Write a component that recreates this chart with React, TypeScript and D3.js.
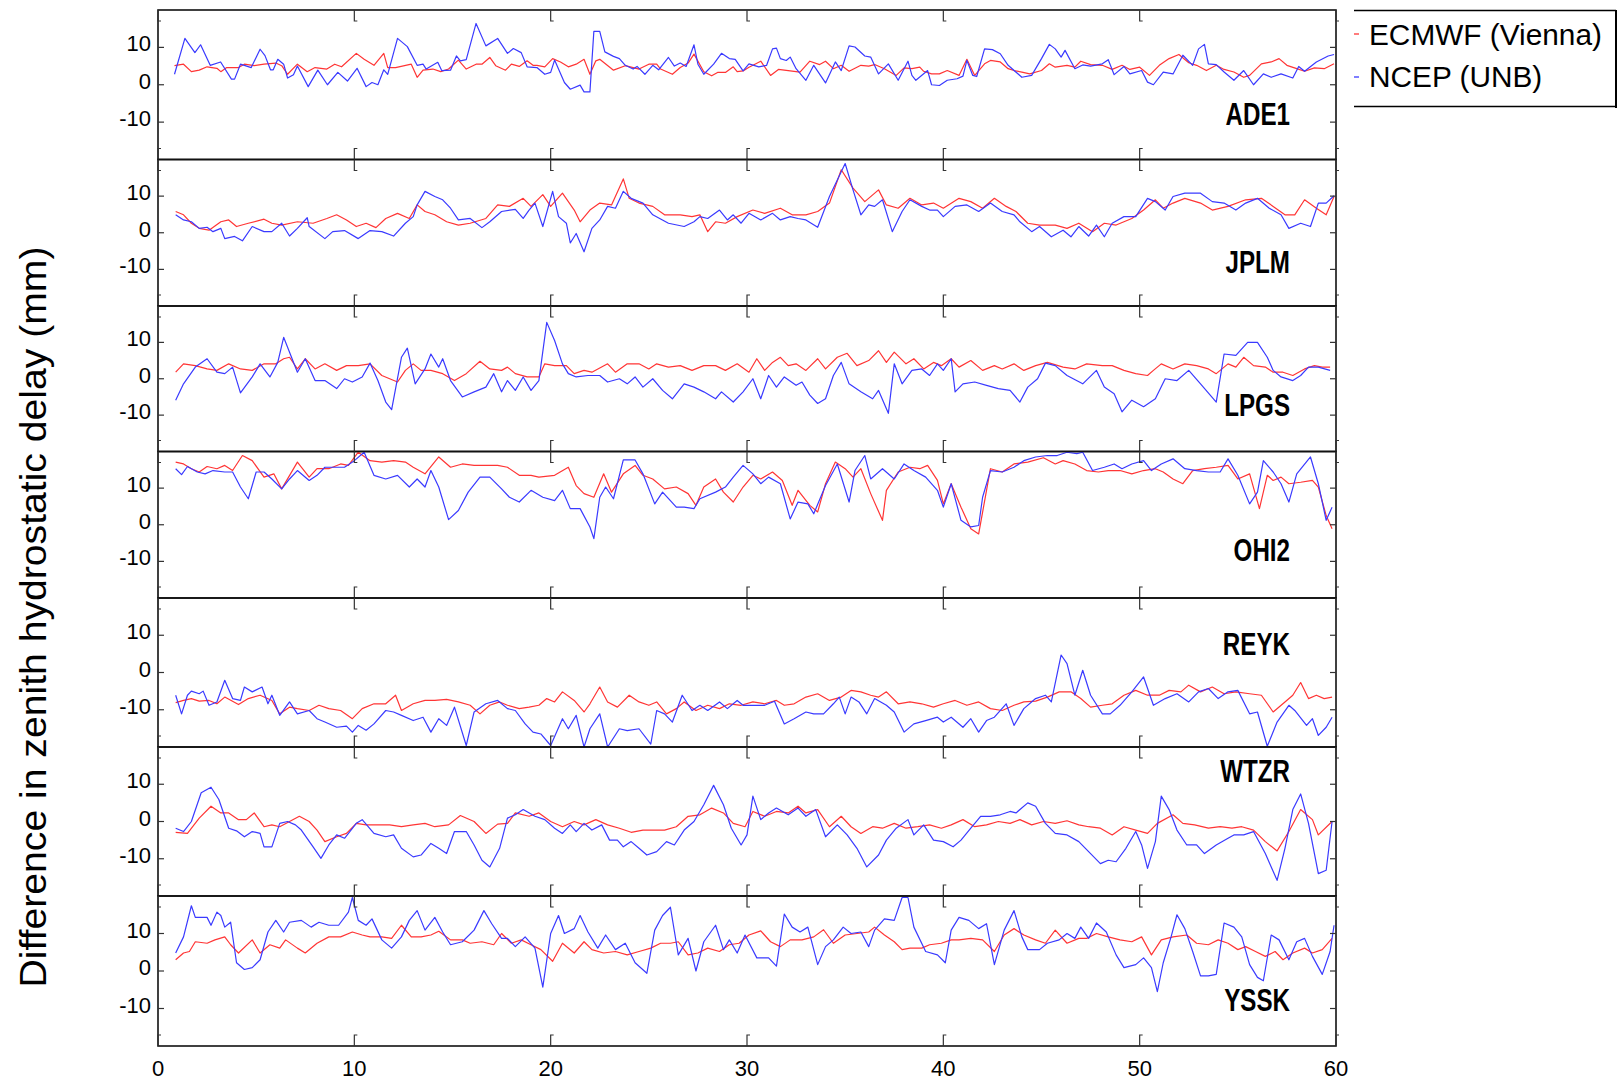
import React from "react";
import * as d3 from "d3";

type P = [number, number];

const STATIONS = ["ADE1", "JPLM", "LPGS", "OHI2", "REYK", "WTZR", "YSSK"];
const SERIES_NAMES = ["ECMWF (Vienna)", "NCEP (UNB)"];
const X_TICKS = [0, 10, 20, 30, 40, 50, 60];
const Y_TICKS = [-10, 0, 10];
const X_DOMAIN: [number, number] = [0, 60];
const Y_DOMAIN: [number, number] = [-20, 20];
const Y_LABEL = "Difference in zenith hydrostatic delay (mm)";

const ADE1_ECMWF: P[] = [[0.84,5.1],[1.3,5.5],[1.7,3.5],[2.1,3.9],[2.5,4.8],[3,4.4],[3.2,3.5],[3.5,4.6],[4.1,4.6],[4.4,5.5],[4.9,5.1],[5.4,5.5],[6,5.8],[6.3,5.1],[6.6,2.8],[7.1,5.5],[7.6,3.5],[8,4.6],[8.6,4.2],[9,5.5],[9.35,4.8],[10.1,8.4],[10.5,6.8],[11,5.2],[11.5,8.4],[11.7,4.6],[12.1,4.6],[12.9,5.5],[13.2,2],[13.5,3.9],[14,4.2],[14.4,3.5],[14.8,4.2],[15.3,6.6],[15.7,4.2],[16.2,5.5],[16.5,5.5],[16.9,7.3],[17.2,5.1],[17.7,3.9],[18,5.5],[18.4,4.9],[18.8,6.4],[19.1,5.2],[19.3,5.2],[19.7,4.8],[20.1,7],[20.5,6.1],[20.9,4.8],[21.3,5.5],[21.7,6.8],[22,2.8],[22.3,6.4],[22.5,6.8],[23.2,3.9],[23.8,5.1],[24.5,4.2],[25,5.5],[25.4,5.5],[25.6,4.2],[26.2,2.8],[26.6,4.6],[27,5.8],[27.3,8.2],[27.8,3.5],[28.2,2.4],[28.5,3.3],[28.9,3.3],[29.3,4.8],[29.5,3.5],[29.8,3.7],[30.1,4.7],[30.7,6.3],[31.2,2.5],[31.6,4.1],[32.1,3.8],[32.7,3.4],[33.2,6.3],[33.7,5.4],[34,6.3],[34.4,4.3],[34.8,5.2],[35.2,3.6],[35.8,5.2],[36.2,5],[36.5,5.4],[37,4.3],[37.6,2.5],[38,4.5],[38.4,4.3],[38.8,4.7],[39,3.6],[39.4,2.9],[39.8,2.9],[40.2,3.8],[40.8,2.5],[41.2,6.8],[41.6,2.5],[42.1,5.6],[42.4,6.5],[42.9,6.1],[43.3,4.3],[43.6,3.8],[44,3.4],[44.4,2.9],[45,3.8],[45.4,5.6],[45.7,4.7],[46.3,5.2],[46.7,4.7],[47,6.3],[47.5,5.4],[48.1,5.2],[48.6,4.1],[49.1,5.2],[49.5,4.1],[50,4.7],[50.5,2.5],[51,5.2],[51.5,7],[52,8.1],[52.5,5.9],[52.9,5.2],[53.4,3.8],[53.9,5.2],[54.3,4.1],[54.8,3.4],[55.3,2],[55.6,2.5],[56.2,5.6],[56.7,6.1],[57.1,7],[57.5,5.2],[58,4.3],[58.4,3.6],[58.9,4.5],[59.4,4.3],[59.9,5.6]];
const ADE1_NCEP: P[] = [[0.84,2.8],[1.37,12.4],[1.88,8.6],[2.17,10.7],[2.66,5.2],[3.19,6.1],[3.74,1.5],[3.9,1.5],[4.2,5.5],[4.75,4.6],[5.2,9.5],[5.45,7.8],[5.73,4],[5.87,4],[6.1,6.8],[6.4,5.5],[6.6,1.8],[6.9,2.7],[7.1,5],[7.65,-0.5],[8.14,3.9],[8.63,0],[9.16,3.3],[9.65,1],[10.14,4.4],[10.6,-0.5],[10.9,0.6],[11.2,0],[11.5,4],[11.7,2.8],[12.2,12.4],[12.7,10.2],[13.2,5.2],[13.5,5.5],[13.66,4.2],[14.25,6],[14.45,3.8],[14.9,3.9],[15.2,7.7],[15.4,6.4],[15.7,6.7],[16.2,16.4],[16.7,10.4],[17.3,12.4],[17.8,8.4],[18.1,9.7],[18.5,8.6],[18.8,4.8],[19.3,4.6],[19.7,2.8],[20,3.3],[20.2,6.6],[20.7,0.6],[21,-1.2],[21.5,-0.1],[21.7,-1.9],[22,-1.9],[22.2,14.3],[22.5,14.3],[22.76,8.8],[23.2,7.6],[23.5,7],[23.8,5.2],[24.2,4.2],[24.4,4.9],[24.8,2.8],[25.2,5.2],[25.5,4],[26,7.3],[26.3,5],[26.6,5.8],[26.9,4.9],[27.3,10.7],[27.5,5.5],[27.8,2.8],[28.3,5.5],[28.7,8.4],[29.1,7],[29.4,6.8],[29.8,3.7],[30.1,5.6],[30.6,4.8],[31,5.2],[31.3,9.6],[31.5,9.8],[31.7,7],[32,6.5],[32.2,7.4],[32.5,4.3],[33,1.2],[33.4,5.2],[34,0.5],[34.5,6.1],[34.8,3.8],[35.2,10.4],[35.5,10.1],[36,7.7],[36.3,7.4],[36.7,2.9],[37.2,5.6],[37.7,1.2],[38.2,6.3],[38.4,2.5],[38.6,1.2],[39.2,3.8],[39.4,0],[39.8,-0.2],[40.2,1.2],[40.7,1.6],[41,2.3],[41.2,6.5],[41.5,2.5],[41.7,2.2],[42.1,9.6],[42.5,9.4],[42.9,8.3],[43.3,5.2],[44,2],[44.5,2.5],[45,7],[45.4,10.8],[45.7,9.6],[46,7.4],[46.2,9.2],[46.7,4.3],[47.1,5.3],[47.5,5],[48.1,5.6],[48.4,6.7],[48.7,2.7],[49.2,4.9],[49.5,2.9],[50.1,3.8],[50.4,0.7],[50.7,0],[51.2,3.4],[51.7,2.9],[52.2,7.9],[52.7,5.2],[53,9.6],[53.3,10.8],[53.5,5.6],[53.9,5.4],[54.3,3.4],[54.8,1.2],[55.3,3.8],[55.8,0],[56.3,2.9],[56.7,2],[57.2,2.9],[57.8,1.8],[58.1,4.9],[58.4,3.6],[59,6.1],[59.6,7.7],[59.9,8.1]];

const JPLM_ECMWF: P[] = [[0.9,5.8],[1.3,4.9],[1.7,2.6],[2.1,1.2],[2.6,0.7],[3.2,3],[3.6,3.5],[4,1.7],[4.6,2.6],[5.4,3.7],[5.8,2.6],[6.3,2.1],[7.1,3],[7.9,2.6],[8.6,3.9],[9.1,4.9],[9.6,3.5],[10.1,1.7],[10.6,2.6],[11.1,1.4],[11.6,3.9],[12.2,5.3],[12.8,3.9],[13.2,7.6],[13.6,5.8],[14.1,4.9],[14.7,3],[15.3,2.1],[15.9,2.6],[16.7,3.9],[17.3,7.6],[17.9,7.2],[18.6,9.4],[19,7.2],[19.6,10.4],[20,7.2],[20.6,10.8],[21.2,6.2],[21.5,3],[22,6.2],[22.5,8.1],[23.1,7.6],[23.7,14.7],[24,9.4],[24.5,8.1],[25.2,7.2],[25.8,4.9],[26.6,4.9],[27.2,4.4],[27.6,4.9],[28,0.3],[28.4,3],[28.9,2.6],[29.5,4.4],[30.3,6.2],[30.9,5.3],[31.7,6.7],[32.3,4.9],[33,4.9],[33.6,5.8],[34.2,8.1],[34.8,17.2],[35.4,12.2],[36,8.5],[36.7,11.7],[37.1,7.6],[37.7,6.7],[38.3,9.4],[38.9,7.6],[39.5,8.1],[40,6.7],[40.8,9.4],[41.4,8.5],[42,6.7],[42.6,9.4],[43.2,7.2],[43.7,5.8],[44.3,2.6],[44.9,2.1],[45.7,2.1],[46.3,1.2],[46.9,2.6],[47.6,0.3],[48.2,2.6],[48.8,2.1],[49.6,3.9],[50.2,6.2],[50.8,9],[51.2,6.7],[51.7,8.1],[52.3,9.4],[53.1,8.1],[53.7,6.2],[54.5,7.2],[55.4,9],[56.2,9.4],[56.8,7.2],[57.4,4.9],[57.9,4.9],[58.4,9],[59,6.7],[59.5,4.9],[59.9,9.9]];
const JPLM_NCEP: P[] = [[0.9,4.9],[1.3,3.5],[1.7,3],[2.1,1.2],[2.5,1.5],[2.8,0.3],[3.2,1.2],[3.4,-1.6],[3.9,-1],[4.3,-2.2],[4.8,1.7],[5.4,0.3],[5.8,0.3],[6.3,2.6],[6.7,-0.9],[7.1,1.2],[7.6,4.1],[7.7,1.7],[8.5,-1.6],[8.9,0.3],[9.5,0.6],[10.2,-1.6],[10.8,0.6],[11.4,0.3],[12,-0.9],[12.6,2.6],[13,4.4],[13.2,7.6],[13.6,11.3],[14.1,9.9],[14.5,9],[14.9,6.7],[15.3,3.5],[15.9,3.9],[16.5,1.4],[16.9,3],[17.5,5.8],[18.2,6.4],[18.6,3.9],[18.9,6.2],[19.2,8.1],[19.6,1.7],[20.1,11.3],[20.4,4.4],[20.8,2.6],[21,-2.8],[21.3,-0.2],[21.7,-5.2],[22.1,1.2],[22.5,3.5],[22.9,7.2],[23.3,6.7],[23.7,11.3],[24.1,9.4],[24.7,8.1],[25.2,4.9],[26,2.6],[26.8,1.7],[27.3,3],[27.6,4.4],[28,3.9],[28.6,6.2],[29,3.5],[29.3,4.9],[29.7,2.6],[30.1,5.3],[30.7,3.5],[31.3,5.3],[31.7,3.5],[32.2,4.4],[32.6,3.9],[33,3.5],[33.6,1.5],[34.2,9.9],[35,18.9],[35.4,11.7],[35.8,4.9],[36.2,7.6],[36.5,7.2],[36.9,9],[37.4,0.3],[37.9,5.8],[38.3,9],[38.9,7.2],[39.3,6.2],[39.7,6.2],[40,4.4],[40.6,7.2],[41.2,7.6],[41.8,5.8],[42.4,8.1],[43,5.8],[43.6,4.9],[43.9,3],[44.5,0.3],[44.9,1.7],[45.5,-1.1],[46.1,0.7],[46.5,-1.1],[46.9,1.7],[47.4,-0.9],[47.8,2.1],[48.2,-1.1],[48.6,2.6],[49.2,4.4],[49.8,4.4],[50.4,9.4],[50.8,8.5],[51.3,6.2],[51.7,9.9],[52.3,10.8],[53.1,10.8],[53.7,8.5],[54.3,8.1],[54.9,6.2],[55.4,8.1],[56,9.4],[56.6,6.7],[57.2,4.9],[57.6,1.2],[58.2,2.6],[58.7,1.7],[59.1,8.1],[59.5,8.1],[59.9,10.1]];

const LPGS_ECMWF: P[] = [[0.9,1.8],[1.3,4.1],[1.9,3.6],[2.5,2.7],[3,2.3],[3.6,4.1],[4.2,2.7],[4.8,2.3],[5.4,4.1],[6,4.1],[6.4,5.5],[6.7,5.9],[7.1,2.7],[7.5,5.5],[8,2.7],[8.5,4.1],[9.1,2.3],[9.6,3.6],[10.2,3.6],[10.8,4.1],[11.4,0.9],[12.2,-0.9],[12.6,2.3],[13,4.1],[13.4,2.3],[13.9,2.3],[14.5,1.4],[15.1,-0.5],[15.7,1.4],[16.4,4.8],[16.9,2.7],[17.5,2.3],[17.8,3.2],[18.2,1.4],[18.8,0.5],[19.4,0.5],[19.7,4.1],[20.2,3.6],[20.8,3.6],[21.2,1.4],[21.7,2.3],[22.1,1.8],[22.9,4.1],[23.3,1.8],[23.9,4.1],[24.5,4.1],[25,2.7],[25.4,4.1],[26,3.2],[26.6,3.6],[27.2,2.3],[27.8,3.6],[28.4,3.6],[28.9,2.3],[29.5,4.1],[30.1,1.8],[30.5,5.5],[30.9,2.3],[31.3,4.5],[31.7,5.9],[32.1,3.6],[32.5,4.1],[33,2.3],[33.6,5.5],[34,2.7],[34.6,5.9],[35.1,7],[35.6,3.6],[36.2,5],[36.7,7.7],[37.1,4.5],[37.5,7.3],[38.1,4.1],[38.5,5.5],[39,2.7],[39.5,4.5],[39.9,3.6],[40.4,5.5],[40.8,3.2],[41.4,5],[42,2.3],[42.6,3.6],[43,2.7],[43.6,4.1],[44.1,2.3],[44.7,3.6],[45.3,4.5],[46.1,3.2],[46.7,2.7],[47.3,4.1],[48.1,3.6],[48.6,3.6],[49.2,2.3],[49.8,1.4],[50.4,0.9],[50.7,2.3],[51.1,4.1],[51.7,2.7],[52.3,4.1],[52.9,3.6],[53.5,2.7],[53.9,1.4],[54.5,4.1],[54.9,3.2],[55.3,5.9],[55.8,3.6],[56.4,3.2],[56.8,1.8],[57.3,1.8],[57.8,0.9],[58.4,2.7],[58.9,3.6],[59.3,3.2],[59.7,3.2]];
const LPGS_NCEP: P[] = [[0.9,-5.9],[1.3,-1.4],[1.9,3.2],[2.5,5.5],[3,1.8],[3.4,1.4],[3.8,3.2],[4.2,-3.9],[4.8,0.5],[5.2,4.1],[5.7,0.5],[6.1,4.5],[6.4,11.4],[6.7,7.3],[7.1,1.8],[7.5,5.5],[8,-0.5],[8.5,-0.5],[9.1,-2.7],[9.5,0],[9.9,-0.9],[10.4,0.5],[10.8,4.3],[11.2,-0.5],[11.6,-6.4],[11.9,-8.5],[12.4,5.9],[12.7,8.4],[13.1,-1.4],[13.6,2.7],[13.9,6.8],[14.3,3.2],[14.5,5.5],[14.9,-0.5],[15.5,-5],[16.1,-3.6],[16.7,-2.3],[17.1,1.4],[17.5,-3.6],[17.8,-0.5],[18.2,-3.2],[18.6,0.5],[19,-3.2],[19.4,-0.5],[19.8,15.5],[20.2,10.5],[20.6,4.1],[20.9,1.4],[21.3,0.5],[21.9,0.9],[22.5,0.9],[22.9,-0.9],[23.5,0],[23.9,-1.4],[24.3,0.5],[24.7,-2.3],[25.2,0],[25.7,-3.2],[26.2,-5.5],[26.8,-1.4],[27.3,-2.3],[27.8,-3.6],[28.4,-5.5],[28.7,-3.6],[29.3,-6.4],[29.8,-3.6],[30.3,0],[30.7,-5.5],[31.1,0.9],[31.5,-2.3],[31.9,0.5],[32.5,-1.8],[32.8,-0.9],[33.2,-4.5],[33.6,-6.8],[34,-5.5],[34.4,0.9],[34.8,4.5],[35.2,-1.4],[35.8,-3.6],[36.4,-5.5],[36.7,-3.2],[37.2,-9.5],[37.5,4.1],[37.9,-1.4],[38.4,2.3],[38.9,2.7],[39.3,0.9],[39.7,4.1],[40,2.3],[40.4,5.5],[40.6,-3.6],[41,-1.4],[41.6,-0.9],[42.2,-1.8],[42.8,-2.7],[43.4,-3.2],[43.9,-6.4],[44.3,-2.3],[44.8,0],[45.2,4.3],[45.7,3.6],[46.3,0.9],[47.1,-1.4],[47.8,2.3],[48.2,-2.3],[48.7,-4.1],[49.1,-9.1],[49.6,-5.9],[50.2,-7.7],[50.8,-5.5],[51.3,0],[51.9,-0.5],[52.5,2.3],[53.1,-1.4],[53.9,-6.4],[54.3,6.8],[54.9,6.4],[55.5,10],[56,10],[56.5,5.9],[56.8,2.3],[57.2,0.5],[57.8,-0.5],[58.2,0.9],[58.6,3.2],[59.1,3.2],[59.7,2.3]];

const OHI2_ECMWF: P[] = [[0.9,17.1],[1.3,16.6],[1.7,15.3],[2.1,14.4],[2.5,15.9],[3,15.3],[3.4,16.2],[3.8,14.8],[4.3,18.9],[4.8,17.5],[5.4,13],[5.9,13.9],[6.3,9.8],[7.1,17.1],[7.7,13],[8.1,15.3],[8.7,15.3],[9.3,16.6],[9.7,16.2],[10.2,19.8],[10.8,17.5],[11.4,17.1],[12,17.5],[12.6,17.1],[13,15.7],[13.6,13.9],[14.3,18.5],[14.9,15.7],[15.5,16.6],[16.1,16.2],[16.7,16.2],[17.3,16.2],[17.8,15.7],[18.4,13.5],[19,13.5],[19.4,13],[20.2,13.5],[20.9,15.7],[21.3,10.7],[21.7,8.5],[22.2,7.5],[22.7,13.9],[23.1,8.9],[23.7,13.9],[24.3,16.2],[24.7,13.5],[25.2,12.5],[25.8,9.8],[26.4,10.3],[27,8.5],[27.4,5.3],[27.8,10.3],[28.4,12.5],[28.8,8.9],[29.3,6.2],[29.8,10.3],[30.3,13.5],[30.7,12.5],[31.3,14.4],[31.8,12.1],[32.3,5.3],[32.6,9.4],[33.2,5.3],[33.6,3.5],[34,11.2],[34.5,17.1],[35,15.3],[35.4,13],[35.8,15.3],[36.3,8.5],[36.9,1.2],[37.1,9.4],[37.7,14.4],[38.3,15.7],[38.8,15.3],[39.2,16.2],[39.7,12.1],[40,5.7],[40.4,11.2],[40.9,4.8],[41.4,-1.1],[41.8,-2.5],[42.4,15.3],[43,14.4],[43.6,16.6],[44.3,17.1],[45.1,18.3],[45.7,16.6],[46.1,17.5],[46.7,16.6],[47.3,14.8],[47.9,14.4],[48.4,14.8],[49,14.8],[49.6,13.9],[50.2,14.8],[50.8,15.3],[51.2,14.4],[51.7,12.5],[52.2,11.2],[52.7,14.8],[53.3,15.3],[53.9,15.7],[54.5,16.2],[55,12.5],[55.6,13.9],[56.1,4.4],[56.5,13.5],[56.8,12.1],[57.2,13],[57.6,11.2],[58.2,11.6],[58.8,12.1],[59.1,10.3],[59.5,2.5],[59.8,-1.1]];
const OHI2_NCEP: P[] = [[0.9,15.3],[1.2,13.7],[1.5,15.9],[2,14.4],[2.4,13.9],[2.8,14.8],[3.4,14.4],[3.8,14.4],[4.2,10.3],[4.6,7.1],[5,14.4],[5.4,14.4],[5.8,12.5],[6.3,9.8],[6.7,12.5],[7.1,14.8],[7.7,12.1],[8.1,13.5],[8.5,15.7],[9.1,15.7],[9.5,15.7],[10,17.5],[10.5,19.8],[11,13.5],[11.6,12.5],[12.2,13.5],[12.8,10.3],[13.2,12.5],[13.6,10.3],[13.9,14.8],[14.3,10.3],[14.8,1.4],[15.3,3.9],[15.8,8.9],[16.4,13],[16.9,13],[17.5,9.8],[17.9,7.5],[18.4,6.2],[19,9.4],[19.6,7.5],[20.2,6.6],[20.6,9.4],[21,4.4],[21.5,4.4],[22,-0.6],[22.2,-3.8],[22.5,7.5],[22.8,10.3],[23.2,7.1],[23.7,17.7],[24.3,17.7],[24.7,13.9],[25.3,5.7],[25.7,8.9],[26.4,4.8],[26.8,4.8],[27.3,4.4],[27.6,7.1],[28.4,8.9],[28.9,10.3],[29.3,13],[29.8,16.2],[30.3,13.9],[30.7,11.2],[31.1,13],[31.7,11.2],[32.2,1.6],[32.6,6.2],[33.1,5.7],[33.4,3],[34,10.7],[34.6,16.6],[35.2,6.2],[35.5,14.8],[36,18.9],[36.3,12.5],[36.9,15.3],[37.5,12.5],[38,16.6],[38.5,14.8],[39.1,13],[39.7,9.4],[40,4.8],[40.4,11.2],[40.9,1.2],[41.4,-0.6],[41.8,-0.2],[42,7.5],[42.4,14.8],[43,14.4],[43.6,15.7],[44.1,17.5],[44.7,18.5],[45.3,18.9],[45.8,18.9],[46.3,19.8],[46.8,19.4],[47.1,19.8],[47.6,14.8],[48.2,15.7],[48.7,16.6],[49.1,15.3],[49.6,16.6],[50.2,17.5],[50.6,14.8],[51.1,16.6],[51.7,18],[52.3,15.3],[52.9,14.8],[53.5,14.4],[54.1,14.4],[54.5,18],[55,13.5],[55.6,5.7],[56,8.9],[56.3,17.5],[56.8,14.4],[57.2,11.2],[57.6,6.2],[58,13.9],[58.7,18.5],[59.1,11.2],[59.5,1.2],[59.8,4.8]];

const REYK_ECMWF: P[] = [[0.9,-8.1],[1.3,-7.5],[1.7,-7],[2.1,-7.7],[2.6,-7.5],[3,-8.4],[3.4,-6.6],[4.1,-8.6],[4.6,-7],[5.2,-6.1],[5.8,-7.5],[6.2,-11.1],[6.7,-9.3],[7.1,-9.7],[7.7,-10.2],[8.2,-8.8],[8.7,-9.7],[9.3,-10.2],[9.9,-12.4],[10.4,-9.7],[11,-8.4],[11.6,-8.4],[12.1,-6.1],[12.4,-10.2],[13,-8.4],[13.6,-7.5],[14.1,-7.5],[14.7,-7.2],[15.3,-7.9],[15.9,-8.8],[16.4,-11.1],[16.9,-8.8],[17.4,-7.9],[17.8,-8.8],[18.4,-9.7],[18.9,-9.3],[19.4,-8.8],[19.8,-7],[20.2,-7.9],[20.6,-5.2],[21.2,-7.5],[21.7,-10.6],[22,-8.4],[22.5,-3.9],[22.9,-7.9],[23.4,-9.3],[24,-6.1],[24.5,-7.9],[25,-8.8],[25.4,-7.9],[25.9,-11.1],[26.4,-9.7],[26.8,-7.9],[27.4,-10.2],[28,-8.8],[28.6,-9.7],[29.1,-8.4],[29.7,-8.8],[30.3,-7.9],[30.9,-8.4],[31.5,-7.5],[31.9,-8.8],[32.4,-8.4],[33,-6.6],[33.6,-5.7],[34.2,-7.5],[34.8,-6.6],[35.3,-4.8],[35.8,-5.2],[36.3,-6.1],[36.7,-6.6],[37.1,-5.2],[37.7,-8.4],[38.3,-7.9],[38.9,-8.4],[39.5,-9.3],[40,-8.4],[40.6,-7.5],[41.2,-8.8],[41.8,-7.9],[42.4,-9.7],[43,-10.2],[43.6,-8.8],[44.1,-7.9],[44.7,-7.7],[45.3,-6.6],[45.9,-5.2],[46.5,-5.2],[47,-7],[47.5,-9.3],[48.1,-8.8],[48.6,-8.4],[49.2,-6.1],[49.8,-4.8],[50.4,-6.1],[51,-6.1],[51.5,-4.8],[52.1,-5.2],[52.5,-3.4],[53.1,-5.2],[53.7,-3.9],[54.3,-5.7],[54.9,-5.2],[55.6,-5.7],[56.2,-6.1],[56.8,-10.6],[57.4,-7.9],[57.8,-6.1],[58.2,-2.7],[58.6,-7],[59,-6.1],[59.4,-7],[59.8,-6.6]];
const REYK_NCEP: P[] = [[0.9,-6.1],[1.2,-11.1],[1.5,-6.1],[1.7,-5],[2.1,-5.7],[2.3,-5],[2.6,-8.8],[3,-7.9],[3.4,-2.1],[3.8,-7],[4.2,-7.5],[4.4,-3.9],[4.8,-5.2],[5.3,-3.9],[5.6,-8.4],[5.8,-6.1],[6.2,-11.5],[6.7,-7.9],[7.1,-11.1],[7.7,-10.2],[8.1,-12.4],[8.5,-13.3],[9.1,-14.7],[9.6,-14.4],[9.9,-16],[10.2,-14.2],[10.6,-15.5],[11,-13.8],[11.6,-10.2],[12,-10.6],[12.4,-11.5],[13,-12.9],[13.5,-12],[13.9,-16],[14.3,-12.4],[14.7,-14.2],[15.1,-9.3],[15.7,-19.6],[16.1,-10.6],[16.7,-8.4],[17.3,-7.5],[17.8,-9.7],[18.2,-10.2],[18.7,-13.8],[19.1,-16],[19.5,-16.5],[20,-19.6],[20.6,-12.4],[20.9,-15.1],[21.3,-11.5],[21.7,-20],[22,-15.1],[22.5,-11.1],[22.9,-20],[23.5,-15.1],[23.9,-15.6],[24.5,-15.1],[25.1,-19.2],[25.4,-10.2],[25.8,-11.1],[26.2,-13.3],[26.7,-6.1],[27.2,-10.2],[27.6,-8.8],[28,-10.2],[28.6,-7.9],[29,-9.7],[29.5,-7.5],[29.8,-8.8],[30.3,-8.8],[30.9,-8.8],[31.4,-7.7],[31.9,-13.8],[32.4,-12.4],[33,-10.6],[33.4,-11.1],[33.9,-11.1],[34.4,-8.4],[34.7,-6.6],[35,-11.1],[35.3,-6.6],[35.7,-7.9],[36.1,-11.1],[36.5,-7],[37.1,-8.8],[37.5,-10.6],[38,-16],[38.5,-13.8],[39.1,-12.9],[39.7,-12],[40,-13.3],[40.4,-12],[41,-14.7],[41.4,-12.4],[41.8,-16],[42.2,-12.9],[42.6,-12],[43.2,-8.4],[43.6,-14.2],[44.1,-9.7],[44.7,-7],[45.2,-6.1],[45.5,-7.9],[46,4.7],[46.3,2.4],[46.7,-6.1],[47.1,0.6],[47.5,-6.1],[48.1,-11.1],[48.5,-11.1],[49,-8.8],[49.6,-5.2],[50.2,-1.2],[50.7,-8.8],[51.3,-7],[51.9,-5.7],[52.5,-7.9],[53,-5.2],[53.5,-4.3],[54,-7],[54.5,-5.2],[55,-4.8],[55.6,-11.1],[56,-10.6],[56.5,-19.8],[57,-13.3],[57.6,-8.8],[57.9,-10.2],[58.5,-14.2],[58.8,-12.4],[59.1,-16.9],[59.5,-14.7],[59.8,-12]];

const WTZR_ECMWF: P[] = [[0.9,-2.9],[1.5,-3.2],[2.1,0.9],[2.7,4.1],[3.2,2.3],[3.6,2.3],[4.1,0.5],[4.5,0.5],[4.9,2.3],[5.4,-1.4],[5.8,-0.9],[6.2,-1.4],[6.7,0],[7.2,1.4],[7.7,0],[8.1,-2.3],[8.5,-5.4],[9.1,-4.1],[9.6,-3.2],[10.1,-0.5],[10.6,-0.9],[11.2,-0.9],[11.8,-0.9],[12.4,-1.4],[13,-0.9],[13.6,-0.5],[14.1,-1.4],[14.8,-0.9],[15.4,1.6],[16.1,0],[16.7,-3.2],[17.3,-0.7],[17.8,-0.5],[18.2,2.3],[18.9,1.4],[19.4,2.3],[20,0],[20.6,-1.4],[21.2,0],[21.7,-0.9],[22.3,0.5],[22.9,-0.9],[23.5,-1.8],[24.1,-2.9],[24.7,-2.3],[25.2,-2.3],[25.8,-2.3],[26.4,-1.4],[27,1.4],[27.6,1.8],[28.2,3.6],[28.8,2.3],[29.3,-0.5],[29.9,-1.4],[30.3,2.7],[30.9,1.4],[31.5,2.7],[32.1,2.3],[32.6,4.1],[33,2.3],[33.6,3.2],[34.2,-1.4],[34.8,1.4],[35.3,-1.4],[35.8,-3.2],[36.4,-1.4],[36.9,-1.8],[37.5,-0.5],[38.1,-1.8],[38.7,-1.4],[39.3,-0.9],[39.9,-1.8],[40.4,-0.9],[41,0.5],[41.6,-1.4],[42.2,-0.9],[42.8,0],[43.4,-0.5],[43.9,0.5],[44.5,-0.9],[45.1,0],[45.7,-0.5],[46.3,0.2],[46.9,-0.9],[47.4,-1.4],[48,-1.8],[48.6,-3.6],[49.2,-1.4],[49.8,-2.3],[50.4,-3.2],[50.9,-0.5],[51.7,1.8],[52.2,-0.5],[52.8,-0.9],[53.5,-1.8],[54.1,-1.4],[54.7,-1.8],[55.2,-1.4],[55.8,-2.3],[56.4,-5.4],[57,-7.9],[57.6,-2.7],[58.2,3.2],[58.8,0.5],[59.1,-3.6],[59.8,0]];
const WTZR_NCEP: P[] = [[0.9,-1.8],[1.3,-2.7],[1.7,0],[2.2,7.7],[2.7,9.2],[3.1,5.9],[3.6,-1.8],[4,-2.5],[4.4,-4.1],[4.8,-2.7],[5.2,-3.2],[5.4,-6.8],[5.8,-6.8],[6.2,-0.5],[6.6,0],[7,-0.9],[7.3,-2.3],[7.9,-6.8],[8.3,-9.9],[8.7,-6.3],[9.1,-3.6],[9.5,-4.5],[10.1,-0.5],[10.4,0.5],[11,-3.2],[11.6,-4.1],[12,-3.6],[12.4,-7.2],[13,-9.5],[13.4,-9],[13.9,-5.9],[14.3,-7.2],[14.7,-8.6],[15.1,-2.7],[15.7,-2.7],[16.1,-6.3],[16.5,-10.4],[16.9,-12.2],[17.4,-7.2],[17.8,0.9],[18.2,1.8],[18.6,3.2],[19.2,1.4],[19.7,0.5],[20.2,-1.8],[20.6,-3.2],[21,-0.9],[21.3,-2.7],[21.7,-0.5],[22.1,-2.3],[22.6,-0.9],[23,-5],[23.4,-5],[23.7,-6.8],[24.1,-5.4],[24.5,-7.2],[24.9,-9],[25.4,-8.1],[25.9,-5.4],[26.3,-6.3],[26.8,-2.3],[27.3,0],[27.8,4.5],[28.3,9.7],[28.8,4.5],[29.2,-1.8],[29.7,-6.3],[30,-3.6],[30.3,6.8],[30.7,0.5],[31.1,2.3],[31.5,3.6],[32.1,1.8],[32.6,3.6],[33,1.4],[33.5,3.2],[34,-4.1],[34.6,-0.9],[35.1,-3.6],[35.6,-7.2],[36.1,-12.2],[36.7,-9],[37.1,-5],[37.6,-1.8],[38.2,0.5],[38.5,-3.6],[39,-0.9],[39.5,-5],[40,-5.4],[40.5,-6.8],[40.9,-5],[41.4,-1.8],[41.9,1.4],[42.4,1.4],[42.9,1.8],[43.4,2.7],[43.7,2.3],[44.3,5],[44.7,4.1],[45.2,-0.5],[45.7,-3.2],[46.3,-3.6],[46.9,-5.4],[47.4,-8.1],[48,-11.3],[48.4,-10.4],[48.8,-10.8],[49.3,-7.2],[49.8,-2.7],[50.1,-6.3],[50.4,-12.6],[50.8,-5.4],[51.1,6.8],[51.5,3.2],[51.9,-2.3],[52.4,-6.3],[52.9,-6.3],[53.3,-8.6],[53.9,-6.3],[54.5,-4.5],[54.8,-3.6],[55.3,-3.6],[55.8,-2.7],[56.4,-8.6],[57,-15.8],[57.4,-7.2],[57.8,3.2],[58.2,7.4],[58.6,-0.5],[59.1,-14],[59.5,-13.1],[59.8,0]];

const YSSK_ECMWF: P[] = [[0.9,3],[1.3,4.8],[1.6,5.2],[1.9,7.8],[2.5,7.4],[2.9,8.3],[3.4,9.1],[3.7,7],[4.1,4.8],[4.8,8.3],[5.2,4.8],[5.7,7],[6.2,6.1],[6.5,8.3],[7.1,6.1],[7.5,4.8],[8.1,7.4],[8.7,9.1],[9.3,9.1],[9.9,10.4],[10.4,9.6],[10.8,9.1],[11.4,9.1],[11.9,8.7],[12.4,12.2],[12.9,9.1],[13.4,9.1],[13.9,9.6],[14.3,10.6],[14.9,8.3],[15.5,8.3],[15.9,7.4],[16.5,7.8],[17.1,7],[17.5,10],[18,7.4],[18.5,8.3],[19,7],[19.5,5.7],[20.1,2.6],[20.6,7.4],[21.2,4.8],[21.7,7.8],[22.1,5.7],[22.7,4.8],[23.3,5.2],[23.9,4.3],[24.5,5.2],[25.1,6.1],[25.6,7.4],[26.1,7.4],[26.5,7.8],[27,4.3],[27.5,4.8],[28,6.1],[28.6,5.2],[29.1,7],[29.6,7.4],[30.1,9.6],[30.7,10.7],[31.2,7.8],[31.7,6.5],[32.2,8.3],[32.8,8.3],[33.4,9.1],[33.9,11],[34.4,7.4],[35,9.6],[35.6,10],[36.2,10.4],[36.5,11.7],[37,9.6],[37.5,7.8],[37.9,5.7],[38.3,6.1],[38.9,6.1],[39.3,7],[39.9,7.4],[40.4,8.3],[40.8,8.3],[41.4,8.7],[42,8.3],[42.6,5.2],[43.1,9.6],[43.6,11.3],[44.1,9.6],[44.7,8.3],[45.2,7.4],[45.7,10.9],[46.3,7.4],[46.9,8.7],[47.3,8.7],[47.8,10],[48.4,9.1],[49,8.3],[49.6,7.8],[50.1,9.1],[50.6,4.3],[51.1,8.3],[51.7,9.1],[52.4,9.6],[52.9,7.4],[53.5,7],[54,8.3],[54.5,7.4],[55,5.7],[55.4,6.5],[55.9,5.2],[56.4,3.9],[56.9,5.2],[57.3,3],[57.8,4.8],[58.4,6.1],[58.8,4.8],[59.3,5.7],[59.8,8.7]];
const YSSK_NCEP: P[] = [[0.9,4.8],[1.3,9.1],[1.7,17.4],[1.9,14.3],[2.5,14.3],[2.7,12.2],[3,15.7],[3.2,14.8],[3.4,11.7],[3.7,13],[4,2.2],[4.4,0.4],[4.8,0.9],[5.2,3],[5.6,10.4],[6,13.5],[6.4,10.4],[6.7,13],[7.3,13.5],[7.8,11.7],[8.2,13],[8.7,12.2],[9.2,12.2],[9.7,15.7],[9.9,19.6],[10.2,13.5],[10.6,12.2],[10.9,13.9],[11.4,8.3],[11.9,6.1],[12.4,9.1],[12.8,13.5],[13.2,16.1],[13.6,10.9],[14.1,14.3],[14.5,10.4],[14.9,7],[15.5,7.8],[16.1,10.9],[16.6,16.1],[17,12.6],[17.5,8.7],[17.8,8.7],[18.2,6.5],[18.7,9.1],[19.2,6.1],[19.6,-4.3],[20,10],[20.4,14.8],[20.7,10],[21.2,11.3],[21.5,14.8],[21.9,10.4],[22.4,6.1],[22.8,9.6],[23.3,5.7],[23.8,7.4],[24.3,2.2],[24.9,-0.6],[25.3,10.9],[25.7,14.8],[26.1,17],[26.5,4.3],[27,8.7],[27.4,0],[27.8,7.8],[28.4,12.2],[28.8,5.7],[29.1,8.3],[29.5,4.8],[29.9,9.6],[30.5,3.5],[31.1,3.5],[31.5,1.3],[31.9,15.2],[32.3,11.7],[32.7,10.4],[33.1,11.7],[33.6,1.7],[34,6.5],[34.4,8.3],[34.9,11.7],[35.3,10],[35.8,10.4],[36.2,6.5],[36.5,10.9],[37,13.9],[37.5,13.5],[37.9,19.6],[38.2,19.6],[38.5,11.7],[39.1,5.2],[39.7,4.3],[40.1,2.2],[40.4,10.9],[40.8,14.3],[41.3,13.5],[41.8,11.3],[42.2,12.6],[42.6,1.7],[43.1,10.9],[43.6,16.1],[44,9.1],[44.3,5.7],[44.9,5.7],[45.3,7.4],[45.9,8.3],[46.3,10],[46.7,8.7],[47,11.7],[47.4,8.7],[47.8,12.8],[48.3,10.4],[48.8,4.3],[49.2,0.9],[49.8,1.7],[50.2,3.5],[50.6,0.9],[50.9,-5.5],[51.2,2.2],[51.6,9.1],[51.9,15],[52.3,11.3],[52.7,5.2],[53.1,-1.3],[53.5,-1.3],[53.9,-0.9],[54.3,12.8],[54.8,11.7],[55.2,9.1],[55.6,1.7],[56,-1.7],[56.3,-2.6],[56.7,9.6],[57.1,8.3],[57.6,3],[58,7.8],[58.4,8.7],[58.8,3.9],[59.3,-0.9],[59.7,5.2],[59.9,12.2]];

const ECMWF_SERIES = [ADE1_ECMWF, JPLM_ECMWF, LPGS_ECMWF, OHI2_ECMWF, REYK_ECMWF, WTZR_ECMWF, YSSK_ECMWF];
const NCEP_SERIES = [ADE1_NCEP, JPLM_NCEP, LPGS_NCEP, OHI2_NCEP, REYK_NCEP, WTZR_NCEP, YSSK_NCEP];

// layout
const W = 1618;
const H = 1081;
const PLOT_LEFT = 158;
const PLOT_RIGHT = 1336;
const PANEL_TOPS = [10, 159.5, 306, 451.5, 598, 747, 896];
const PLOT_BOTTOM = 1046;
const LABEL_DY = [104, 103, 99.5, 99, 46, 24, 104];
const RED = "#ff3535";
const BLUE = "#3a3aff";
const FONT = "'Liberation Sans', Arial, Helvetica, sans-serif";

export default function App() {
  const x = d3.scaleLinear().domain(X_DOMAIN).range([PLOT_LEFT, PLOT_RIGHT]);
  const panels = STATIONS.map((name, i) => {
    const top = PANEL_TOPS[i];
    const bottom = i < STATIONS.length - 1 ? PANEL_TOPS[i + 1] : PLOT_BOTTOM;
    const y = d3.scaleLinear().domain(Y_DOMAIN).range([bottom, top]);
    return { name, i, top, bottom, y };
  });

  return (
    <svg width={W} height={H} style={{ position: "absolute", left: 0, top: 0, background: "#fff" }} fontFamily={FONT}>
      <defs>
        {panels.map((p) => (
          <clipPath id={`clip${p.i}`} key={p.i}>
            <rect x={PLOT_LEFT} y={p.top} width={PLOT_RIGHT - PLOT_LEFT} height={p.bottom - p.top} />
          </clipPath>
        ))}
      </defs>
      {panels.map((p) => {
        const line = d3
          .line<P>()
          .x((d) => x(d[0]))
          .y((d) => p.y(d[1]));
        return (
          <g key={p.name}>
            <g clipPath={`url(#clip${p.i})`}>
              <path d={line(ECMWF_SERIES[p.i]) || ""} fill="none" stroke={RED} strokeWidth={1.2} strokeLinejoin="round" />
              <path d={line(NCEP_SERIES[p.i]) || ""} fill="none" stroke={BLUE} strokeWidth={1.2} strokeLinejoin="round" />
            </g>
            <rect x={PLOT_LEFT} y={p.top} width={PLOT_RIGHT - PLOT_LEFT} height={p.bottom - p.top} fill="none" stroke="#111" strokeWidth={1.6} />
            {X_TICKS.map((t) => (
              <g key={t} stroke="#333" strokeWidth={1.2} fill="none">
                <path d={`M${x(t)},${p.top} V${p.top + 11} h3`} />
                <path d={`M${x(t)},${p.bottom} V${p.bottom - 11} h3`} />
              </g>
            ))}
            {Y_TICKS.map((t) => (
              <g key={t}>
                <line x1={PLOT_LEFT} x2={PLOT_LEFT + 6} y1={p.y(t)} y2={p.y(t)} stroke="#333" strokeWidth={1.2} />
                <line x1={PLOT_RIGHT - 6} x2={PLOT_RIGHT} y1={p.y(t)} y2={p.y(t)} stroke="#333" strokeWidth={1.2} />
                <text x={151} y={p.y(t) - 3.5} textAnchor="end" dominantBaseline="central" fontSize={22} fill="#000">
                  {t}
                </text>
              </g>
            ))}
            <text
              transform={`translate(1290, ${p.top + LABEL_DY[p.i]}) scale(0.78, 1)`}
              textAnchor="end"
              dominantBaseline="central"
              fontSize={31}
              fontWeight="bold"
              fill="#000"
            >
              {p.name}
            </text>
          </g>
        );
      })}
      {X_TICKS.map((t) => (
        <text key={t} x={x(t)} y={1068} textAnchor="middle" dominantBaseline="central" fontSize={22} fill="#000">
          {t}
        </text>
      ))}
      <text
        transform={`translate(33, 617) rotate(-90)`}
        textAnchor="middle"
        dominantBaseline="central"
        fontSize={36}
        textLength={741}
        lengthAdjust="spacingAndGlyphs"
        fill="#000"
      >
        {Y_LABEL}
      </text>
      <g>
        <line x1={1354} x2={1616} y1={10.5} y2={10.5} stroke="#000" strokeWidth={1.3} />
        <line x1={1354} x2={1616} y1={106.5} y2={106.5} stroke="#000" strokeWidth={1.3} />
        <line x1={1616} x2={1616} y1={10} y2={108} stroke="#000" strokeWidth={2} />
        {SERIES_NAMES.map((n, k) => (
          <g key={n}>
            <line x1={1354} x2={1359} y1={k === 0 ? 34 : 77} y2={k === 0 ? 34 : 77} stroke={k === 0 ? RED : BLUE} strokeWidth={1.3} />
            <text x={1369} y={k === 0 ? 34 : 76} dominantBaseline="central" fontSize={29.8} fill="#000">
              {n}
            </text>
          </g>
        ))}
      </g>
    </svg>
  );
}
